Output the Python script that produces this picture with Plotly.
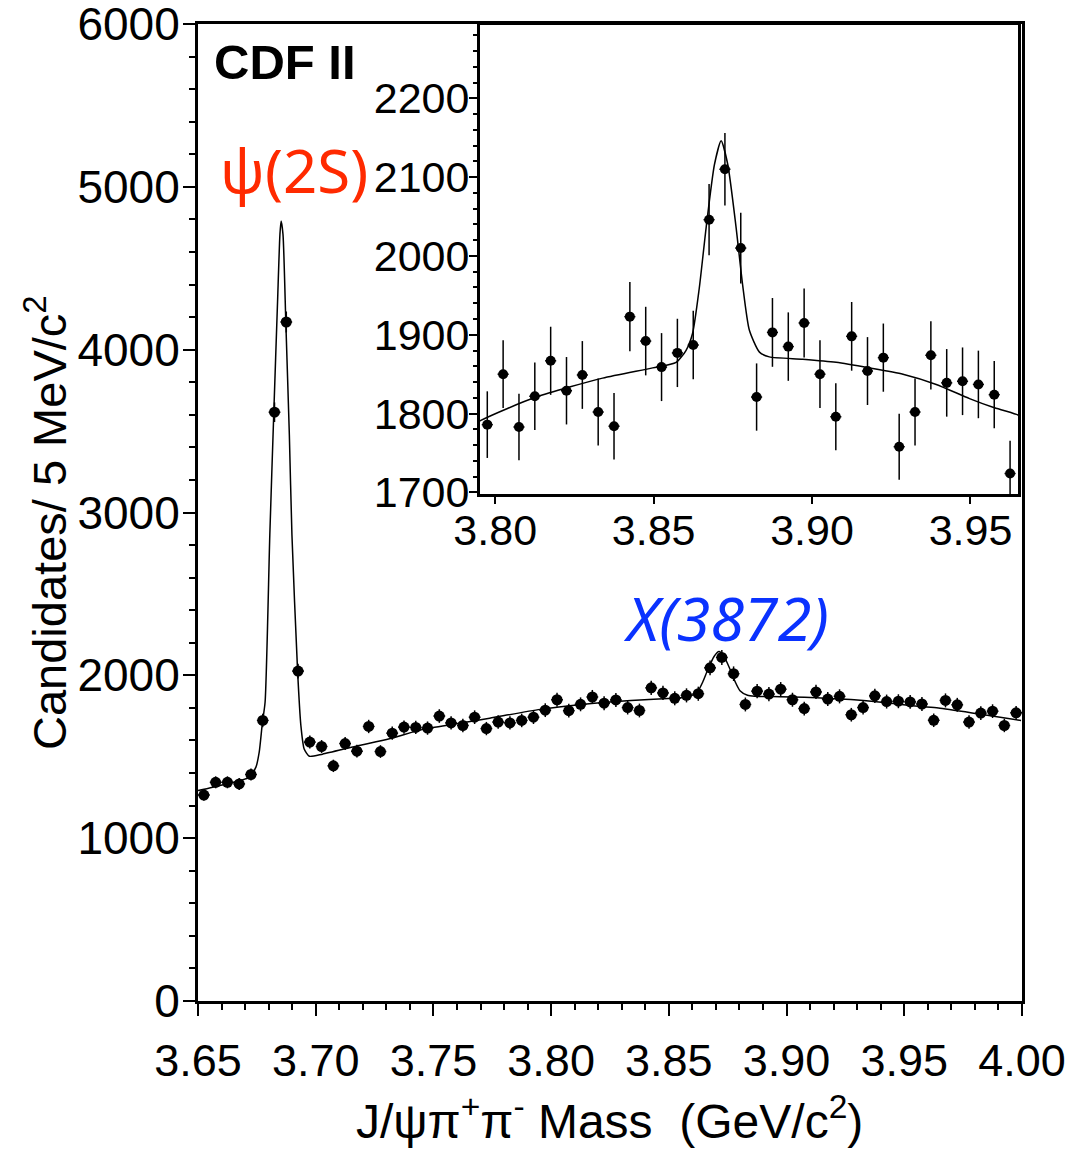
import numpy as np
import plotly.graph_objects as go

# ---------------- data ----------------
MASS = [3.6525, 3.6575, 3.6625, 3.6675, 3.6725, 3.6775, 3.6825, 3.6875, 3.6925, 3.6975,
        3.7025, 3.7075, 3.7125, 3.7175, 3.7225, 3.7275, 3.7325, 3.7375, 3.7425, 3.7475,
        3.7525, 3.7575, 3.7625, 3.7675, 3.7725, 3.7775, 3.7825, 3.7875, 3.7925, 3.7975,
        3.8025, 3.8075, 3.8125, 3.8175, 3.8225, 3.8275, 3.8325, 3.8375, 3.8425, 3.8475,
        3.8525, 3.8575, 3.8625, 3.8675, 3.8725, 3.8775, 3.8825, 3.8875, 3.8925, 3.8975,
        3.9025, 3.9075, 3.9125, 3.9175, 3.9225, 3.9275, 3.9325, 3.9375, 3.9425, 3.9475,
        3.9525, 3.9575, 3.9625, 3.9675, 3.9725, 3.9775, 3.9825, 3.9875, 3.9925, 3.9975]
COUNTS = [1265, 1343, 1343, 1333, 1391, 1723, 3616, 4170, 2026, 1590,
          1563, 1444, 1581, 1534, 1686, 1532, 1645, 1682, 1680, 1676,
          1750, 1708, 1692, 1743, 1673, 1713, 1708, 1723, 1743, 1786,
          1850, 1783, 1822, 1867, 1829, 1849, 1802, 1784, 1923, 1892,
          1859, 1877, 1887, 2046, 2110, 2010, 1821, 1903, 1885, 1915,
          1850, 1796, 1898, 1854, 1871, 1758, 1802, 1874, 1839, 1841,
          1837, 1824, 1724, 1846, 1819, 1713, 1768, 1780, 1692, 1770]
HALF_BIN = 0.0025

# fit curve
FIT_MASS = [3.6500, 3.6603, 3.6717, 3.6746, 3.6760, 3.6773, 3.6785, 3.6805, 3.6822,
            3.6838, 3.6848, 3.6853, 3.6861, 3.6873, 3.6888, 3.6899, 3.6923, 3.6937,
            3.6951, 3.6973, 3.7029, 3.7171, 3.7313, 3.7455, 3.7597, 3.7739, 3.7953,
            3.8129, 3.8339, 3.8497, 3.8571, 3.8602, 3.8623, 3.8644, 3.8666, 3.8692,
            3.8713, 3.8734, 3.8760, 3.8781, 3.8802, 3.8834, 3.8865, 3.8971, 3.9076,
            3.9181, 3.9287, 3.9392, 3.9497, 3.9571, 3.9645, 3.9811, 3.9996]
FIT_VALUE = [1292, 1327, 1374, 1436, 1528, 1702, 1836, 2862, 3616,
             4297, 4708, 4790, 4708, 4170, 3477, 2862, 2026, 1692,
             1548, 1503, 1516, 1565, 1610, 1668, 1702, 1737, 1791,
             1821, 1845, 1858, 1865, 1880, 1902, 1959, 2037, 2116,
             2146, 2116, 2037, 1963, 1906, 1878, 1872, 1869, 1865,
             1858, 1850, 1837, 1819, 1808, 1799, 1764, 1723]

MAIN_XRANGE = [3.65, 4.00]
MAIN_YRANGE = [0, 6000]
INSET_XRANGE = [3.7952, 3.9650]
INSET_YRANGE = [1698, 2293]

X_TITLE = "J/\u03c8\u03c0<sup>+</sup>\u03c0<sup>-</sup> Mass\u00a0\u00a0(GeV/c<sup>2</sup>)"
Y_TITLE = "Candidates/ 5 MeV/c<sup>2</sup>"

FONT = "Liberation Sans, Arial, Helvetica, sans-serif"

mass = np.array(MASS)
counts = np.array(COUNTS, dtype=float)
errs = np.sqrt(counts)

inset_mask = (mass > INSET_XRANGE[0]) & (mass < INSET_XRANGE[1])

fig = go.Figure()

# main panel
fig.add_trace(go.Scatter(x=FIT_MASS, y=FIT_VALUE, mode="lines",
                         line=dict(color="black", width=1.5, shape="spline", smoothing=0.6),
                         xaxis="x", yaxis="y", showlegend=False, hoverinfo="skip"))
fig.add_trace(go.Scatter(x=mass, y=counts, mode="markers",
                         marker=dict(color="black", size=11),
                         error_y=dict(type="data", array=errs, color="black", thickness=1.5, width=0),
                         error_x=dict(type="constant", value=HALF_BIN, color="black", thickness=1.5, width=0),
                         xaxis="x", yaxis="y", showlegend=False))

# inset panel
fig.add_trace(go.Scatter(x=FIT_MASS, y=FIT_VALUE, mode="lines",
                         line=dict(color="black", width=1.5, shape="spline", smoothing=0.6),
                         xaxis="x2", yaxis="y2", showlegend=False, hoverinfo="skip"))
fig.add_trace(go.Scatter(x=mass[inset_mask], y=counts[inset_mask], mode="markers",
                         marker=dict(color="black", size=10),
                         error_y=dict(type="data", array=errs[inset_mask], color="black", thickness=1.5, width=0),
                         error_x=dict(type="constant", value=HALF_BIN * 0.7, color="black", thickness=1.5, width=0),
                         xaxis="x2", yaxis="y2", showlegend=False))

L, R, T, B = 198, 49, 24, 148
W, H = 1071, 1149
pw = W - L - R
ph = H - T - B

def px_x(p):
    return (p - L) / pw

def px_y(p):
    return (H - B - p) / ph

axis_common = dict(showgrid=False, zeroline=False, showline=True, linecolor="black",
                   linewidth=3, mirror=True, ticks="outside", tickcolor="black",
                   ticklabeloverflow="allow", automargin=False)

fig.update_layout(
    width=W, height=H,
    margin=dict(l=L, r=R, t=T, b=B, autoexpand=False),
    paper_bgcolor="white", plot_bgcolor="white",
    font=dict(family=FONT, color="black"),
    xaxis=dict(domain=[0, 1], range=MAIN_XRANGE, anchor="y", tick0=3.65, dtick=0.05,
               tickformat=".2f", ticklen=12, tickwidth=2, ticklabelstandoff=6,
               tickfont=dict(size=45, family=FONT),
               minor=dict(dtick=0.01, tick0=3.65, ticklen=6, tickwidth=1.5, ticks="outside", tickcolor="black"),
               **axis_common),
    yaxis=dict(domain=[0, 1], range=MAIN_YRANGE, anchor="x", tick0=0, dtick=1000,
               ticklen=12, tickwidth=2, ticklabelstandoff=-6,
               tickfont=dict(size=46, family=FONT),
               minor=dict(dtick=200, tick0=0, ticklen=6, tickwidth=1.5, ticks="outside", tickcolor="black"),
               **axis_common),
    xaxis2=dict(domain=[px_x(480), px_x(1018)], range=INSET_XRANGE, anchor="y2", tick0=3.80, dtick=0.05,
                tickformat=".2f", ticklen=7, tickwidth=2, ticklabelstandoff=-11,
                tickfont=dict(size=43, family=FONT), **axis_common),
    yaxis2=dict(domain=[px_y(494), px_y(25)], range=INSET_YRANGE, anchor="x2", tick0=1700, dtick=100,
                ticklen=8, tickwidth=2, ticklabelstandoff=-9,
                tickfont=dict(size=43, family=FONT),
                minor=dict(dtick=20, tick0=1700, ticklen=4, tickwidth=1.5, ticks="outside", tickcolor="black"),
                **axis_common),
)

annotations = [
    dict(text=X_TITLE, x=px_x(609), y=px_y(1118), xref="paper", yref="paper",
         xanchor="center", yanchor="middle", showarrow=False,
         font=dict(size=48, family=FONT, color="black")),
    dict(text=Y_TITLE, x=px_x(46), y=px_y(523), xref="paper", yref="paper",
         xanchor="center", yanchor="middle", textangle=-90, showarrow=False,
         font=dict(size=47, family=FONT, color="black")),
    dict(text="<b>CDF II</b>", x=px_x(212), y=px_y(62), xref="paper", yref="paper",
         xanchor="left", yanchor="middle", showarrow=False,
         font=dict(size=49, family=FONT, color="black")),
    dict(text="\u03c8(2S)", x=px_x(294), y=px_y(170), xref="paper", yref="paper",
         xanchor="center", yanchor="middle", showarrow=False,
         font=dict(size=60, family="Noto Sans, Open Sans, sans-serif", color="#ff2a00")),
    dict(text="<i>X(3872)</i>", x=px_x(726), y=px_y(617), xref="paper", yref="paper",
         xanchor="center", yanchor="middle", showarrow=False,
         font=dict(size=61, family="Noto Sans, Open Sans, sans-serif", color="#0a32ff")),
]
fig.update_layout(annotations=annotations)

fig.write_html("out.html")
